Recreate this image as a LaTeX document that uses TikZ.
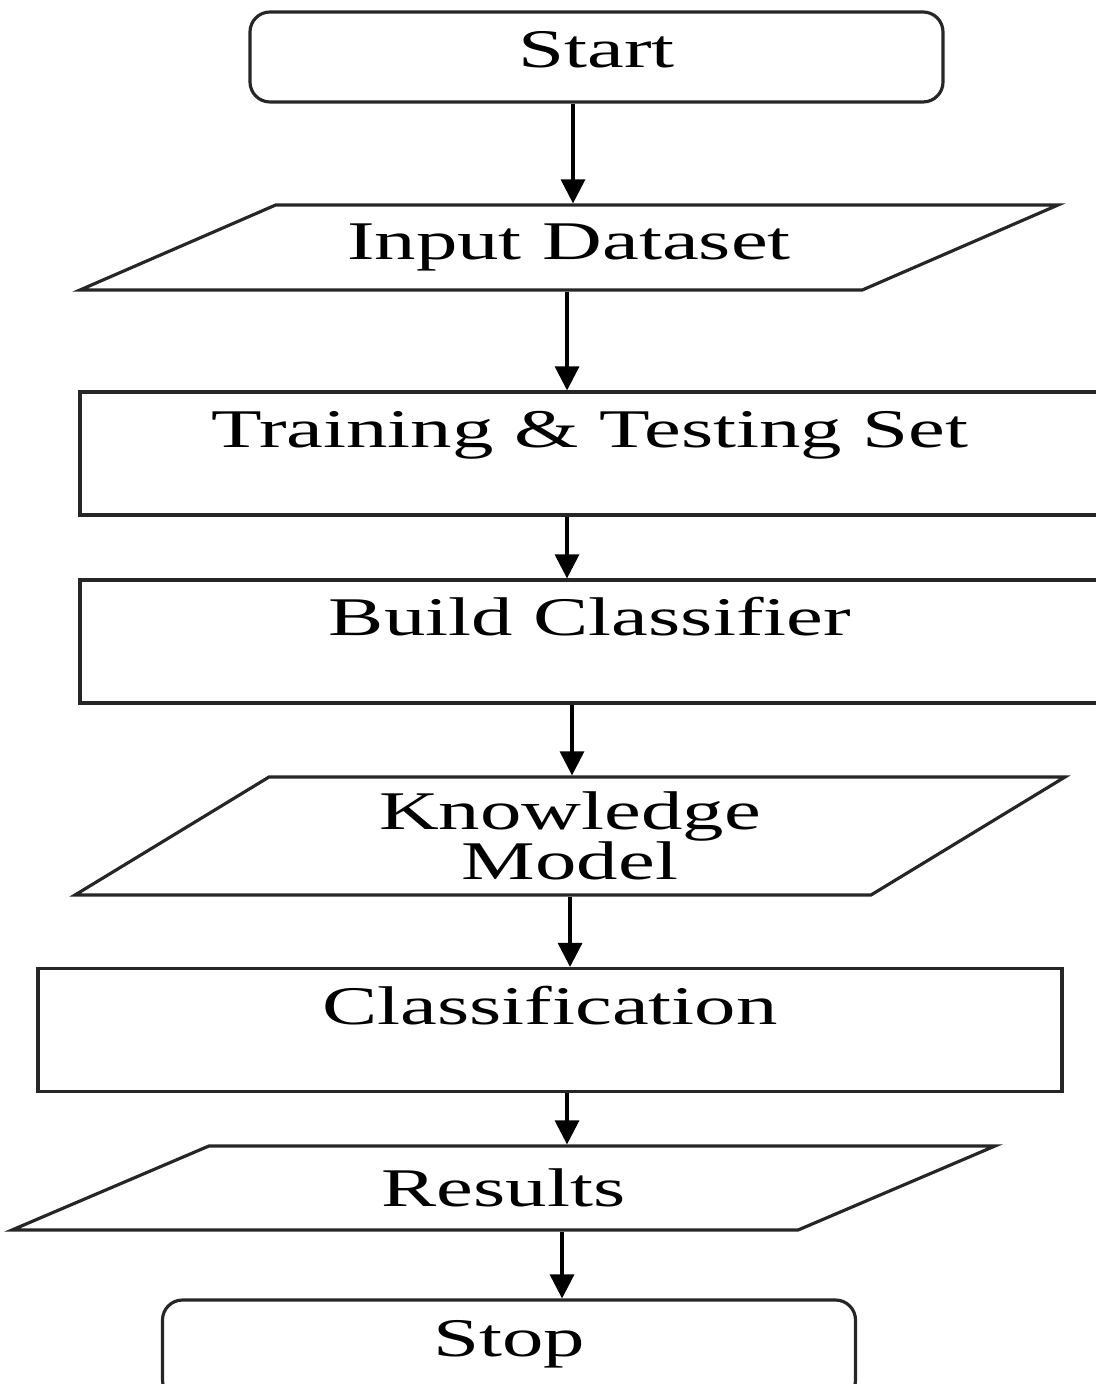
\documentclass[tikz,border=0pt]{standalone}
\usepackage{fontspec}
\setmainfont{Liberation Serif}[FakeStretch=1.52]
\usetikzlibrary{arrows.meta, shapes.geometric}

\begin{document}
\begin{tikzpicture}[
    >={Triangle[width=0.24cm, length=0.24cm]},
    line width=0.9pt,
    flow/.style={draw=black!85, font=\fontsize{15.5}{14.2}\selectfont, align=center},
    termbox/.style={flow, rectangle, rounded corners=0.2cm, minimum width=6.93cm,
                    text height=0.56cm, text depth=0.34cm, inner ysep=0pt},
    procbox/.style={flow, rectangle, text height=0.56cm, text depth=0.67cm, inner ysep=0pt},
    iobox/.style={flow, trapezium, trapezium stretches body=true, inner sep=2pt},
    arr/.style={->, draw=black},
]
\useasboundingbox (0,0) rectangle (10.95,-13.84);

% Terminals, processes and data in one column
\node[termbox] (start) at (5.965,-0.57) {Start};

\node[iobox, minimum width=9.78cm, minimum height=0.85cm,
      trapezium left angle=17.4, trapezium right angle=162.6]
    (input) at (5.69,-2.475) {Input Dataset};

\node[procbox, minimum width=10.2cm] (train) at (5.90,-4.535) {Training \& Testing Set};

\node[procbox, minimum width=10.2cm] (build) at (5.90,-6.415) {Build Classifier};

\node[iobox, minimum width=9.90cm, minimum height=1.18cm,
      trapezium left angle=27.8, trapezium right angle=152.2]
    (know) at (5.70,-8.36) {Knowledge\\Model};

\node[procbox, minimum width=10.24cm] (classify) at (5.50,-10.30) {Classification};

\node[iobox, minimum width=9.83cm, minimum height=0.84cm,
      trapezium left angle=14.9, trapezium right angle=165.1]
    (results) at (5.035,-11.88) {Results};

\node[termbox, text depth=0.44cm] (stop) at (5.09,-13.50) {Stop};

% Downward arrows
\draw[arr] ([xshift=-2.35mm]start.south) -- ([xshift=-2.35mm]start.south |- input.north);
\draw[arr] ([xshift=-0.2mm]input.south) -- ([xshift=-0.2mm]input.south |- train.north);
\draw[arr] ([xshift=-2.3mm]train.south) -- ([xshift=-2.3mm]train.south |- build.north);
\draw[arr] ([xshift=-1.8mm]build.south) -- ([xshift=-1.8mm]build.south |- know.north);
\draw[arr] (know.south) -- (know.south |- classify.north);
\draw[arr] ([xshift=1.7mm]classify.south) -- ([xshift=1.7mm]classify.south |- results.north);
\draw[arr] ([xshift=5.85mm]results.south) -- ([xshift=5.85mm]results.south |- stop.north);

\end{tikzpicture}
\end{document}
